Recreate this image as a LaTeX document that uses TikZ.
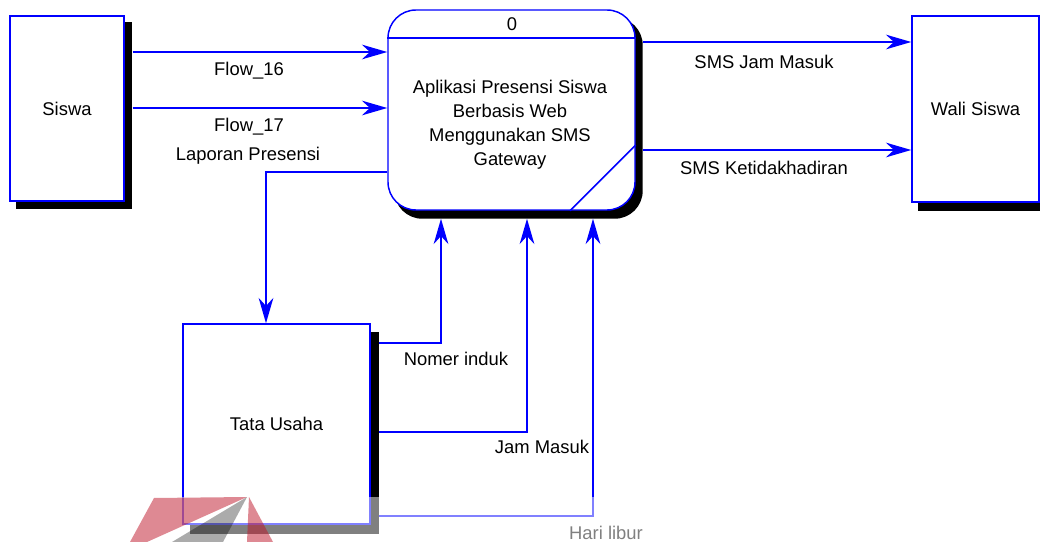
\documentclass[tikz,border=0pt]{standalone}
\usepackage{fontspec}
\setmainfont{Liberation Sans}
\usetikzlibrary{arrows.meta,calc,backgrounds}
\definecolor{wmred}{RGB}{190,20,40}
\begin{document}
\begin{tikzpicture}[x=0.75pt,y=-0.75pt,
  every node/.style={font=\fontsize{13.8pt}{18pt}\selectfont, inner sep=0pt},
  entity/.style={draw=blue, line width=1.1pt, fill=white, rectangle},
  procbox/.style={draw=blue, line width=1.1pt, fill=white, rectangle, rounded corners=21pt},
  flow/.style={draw=blue, line width=1.2pt, -{Stealth[length=19pt,width=11pt,inset=6pt]}},
  edge/.style={draw=blue, line width=1.1pt}]
\useasboundingbox (0,0) rectangle (1040,542);

% external entities and the process
\node[entity, minimum width=85.5pt, minimum height=138.75pt] (siswa) at (67,108.5) {Siswa};
\node[entity, minimum width=95.25pt, minimum height=139.5pt] (wali) at (975.5,109) {Wali Siswa};
\node[entity, minimum width=140.25pt, minimum height=150pt] (tata) at (276.5,424) {Tata Usaha};
\node[procbox, minimum width=185.25pt, minimum height=150pt] (proc) at (511.5,110) {};
\node (pnum) at (512,24) {0};
\node[align=center] (ptext) at (510,125) {Aplikasi Presensi Siswa\\Berbasis Web\\Menggunakan SMS\\Gateway};

% process header and corner mark
\draw[edge] (proc.west |- 0,38) -- (proc.east |- 0,38);
\draw[edge] (proc.south -| 570,0) -- (proc.east |- 0,145);

% drop shadows
\begin{scope}[on background layer]
  \fill[black] ($(siswa.north west)+(7,7)$) rectangle ($(siswa.south east)+(7,7)$);
  \fill[black] ($(wali.north west)+(7,8)$) rectangle ($(wali.south east)+(7,8)$);
  \fill[black] ($(tata.north west)+(8,9)$) rectangle ($(tata.south east)+(8,9)$);
  \fill[black, rounded corners=21pt] ($(proc.north west)+(7,8)$) rectangle ($(proc.south east)+(7,8)$);
\end{scope}

% data flows
\draw[flow] ($(siswa.east |- 0,52)+(8,0)$) -- (proc.west |- 0,52);
\node (l16) at (249,71) {Flow\_16};
\draw[flow] ($(siswa.east |- 0,108)+(8,0)$) -- (proc.west |- 0,108);
\node (l17) at (249,127) {Flow\_17};

\draw[flow] (proc.west |- 0,172) -| (266,0 |- tata.north);
\node (llap) at (248,156) {Laporan Presensi};

\draw[flow] ($(proc.east |- 0,42)+(7,0)$) -- (wali.west |- 0,42);
\node (ljam) at (764,62) {SMS Jam Masuk};
\draw[flow] ($(proc.east |- 0,150)+(7,0)$) -- (wali.west |- 0,150);
\node (lket) at (764,168) {SMS Ketidakhadiran};

\draw[flow] ($(tata.east |- 0,343)+(8,0)$) -| ($(proc.south -| 441,0)+(0,8)$);
\node (lnom) at (456,359) {Nomer induk};
\draw[flow] ($(tata.east |- 0,432)+(8,0)$) -| ($(proc.south -| 527,0)+(0,8)$);
\node (ljm) at (542,447) {Jam Masuk};
\draw[flow] ($(tata.east |- 0,516)+(8,0)$) -| ($(proc.south -| 593,0)+(0,8)$);
\node (lhar) at (606,533) {Hari libur};

% faded lower band with emblem
\fill[white, opacity=0.5] (0,497) rectangle (1040,542);
\fill[wmred, opacity=0.5] (154,498) -- (247,497) -- (147,542) -- (130,542) -- cycle;
\fill[black, opacity=0.33] (247,497) -- (223,542) -- (172,542) -- cycle;
\fill[wmred, opacity=0.5] (249,497) -- (273,542) -- (247,542) -- cycle;
\end{tikzpicture}
\end{document}
